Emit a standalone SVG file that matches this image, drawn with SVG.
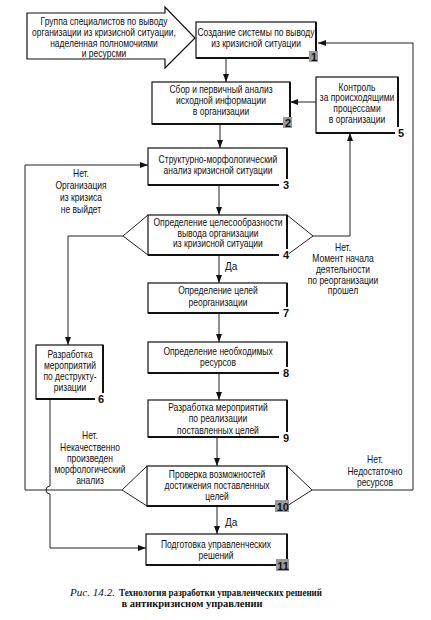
<svg xmlns="http://www.w3.org/2000/svg" width="431" height="620" viewBox="0 0 431 620">
<style>
.b{fill:#fff;stroke:#111;stroke-width:1.2}
.s{fill:none;stroke:#111;stroke-width:2}
.l{fill:none;stroke:#222;stroke-width:1}
.t{font-family:"Liberation Sans",Arial,sans-serif;font-size:10px;text-anchor:middle;fill:#111;transform-box:fill-box;transform-origin:center;transform:scaleX(0.85)}
.n{font-family:"Liberation Sans",Arial,sans-serif;font-size:11px;font-weight:bold;text-anchor:end;fill:#111}
.g{fill:#9a9a9a}
.w{fill:#fff}
.c{font-family:"Liberation Serif","Times New Roman",serif;font-size:10.5px;font-weight:bold;fill:#111}
.ci{font-family:"Liberation Serif","Times New Roman",serif;font-size:10.5px;font-style:italic;font-weight:normal;fill:#111}
</style>
<defs>
<marker id="a" markerWidth="8" markerHeight="6" refX="8" refY="3" orient="auto" markerUnits="userSpaceOnUse"><path d="M0,0 L8,3 L0,6 z" fill="#111"/></marker>
</defs>
<rect width="431" height="620" fill="#fff"/>

<g id="connectors">
<path class="l" d="M226,58 V82" marker-end="url(#a)"/>
<path class="l" d="M316,102 H290" marker-end="url(#a)"/>
<path class="l" d="M220,124 V148" marker-end="url(#a)"/>
<path class="l" d="M219,185 V215" marker-end="url(#a)"/>
<path class="l" d="M123,236 H68 V345" marker-end="url(#a)"/>
<path class="l" d="M313,236 H350 V133" marker-end="url(#a)"/>
<path class="l" d="M219,255 V283" marker-end="url(#a)"/>
<path class="l" d="M219,313 V342" marker-end="url(#a)"/>
<path class="l" d="M219,373 V400" marker-end="url(#a)"/>
<path class="l" d="M217,437 V466" marker-end="url(#a)"/>
<path class="l" d="M217,506 V534" marker-end="url(#a)"/>
<path class="l" d="M312,490 H413 V43 H318" marker-end="url(#a)"/>
<path class="l" d="M122,490 H25 V165 H148" marker-end="url(#a)"/>
<path class="l" d="M50,399 V486 A4,4 0 0 0 50,494 V548 H146" marker-end="url(#a)"/>
<text class="t"><tspan x="81" y="177.5">Нет.</tspan><tspan x="81" y="189.5">Организация</tspan><tspan x="81" y="201.5">из кризиса</tspan><tspan x="81" y="213">не выйдет</tspan></text>
<text class="t"><tspan x="343" y="251.5">Нет.</tspan><tspan x="343" y="262">Момент начала</tspan><tspan x="343" y="273">деятельности</tspan><tspan x="343" y="284">по реорганизации</tspan><tspan x="343" y="294.5">прошел</tspan></text>
<text class="t" style="text-anchor:start;transform:none" x="225" y="269.5">Да</text>
<text class="t"><tspan x="90" y="439.5">Нет.</tspan><tspan x="90" y="451">Некачественно</tspan><tspan x="90" y="462">произведен</tspan><tspan x="90" y="473">морфологический</tspan><tspan x="90" y="484.5">анализ</tspan></text>
<text class="t"><tspan x="375" y="463.5">Нет.</tspan><tspan x="375" y="475.5">Недостаточно</tspan><tspan x="375" y="486.5">ресурсов</tspan></text>
<text class="t" style="text-anchor:start;transform:none" x="225" y="525.5">Да</text>
</g>

<g id="input">
<path class="b" d="M27,13 H165 V7 L195,38 L165,68 V59 H27 Z"/>
<text class="t"><tspan x="104" y="25.5">Группа специалистов по выводу</tspan><tspan x="104" y="36.5">организации из кризисной ситуации,</tspan><tspan x="104" y="47">наделенная полномочиями</tspan><tspan x="104" y="57.5">и ресурсми</tspan></text>
</g>

<g id="n1">
<rect class="b" x="196" y="22" width="120" height="36"/><path class="s" d="M316,22 V58 H196"/>
<text class="t"><tspan x="256" y="36.5">Создание системы по выводу</tspan><tspan x="256" y="47.5">из кризисной ситуации</tspan></text>
<rect class="g" x="309" y="51" width="9" height="11"/><text class="n" x="317" y="61">1</text>
</g>

<g id="n2">
<rect class="b" x="152" y="82" width="138" height="42"/><path class="s" d="M290,82 V124 H152"/>
<text class="t"><tspan x="221" y="93.5">Сбор и первичный анализ</tspan><tspan x="221" y="104.5">исходной информации</tspan><tspan x="221" y="115.5">в организации</tspan></text>
<rect class="g" x="283" y="117" width="9" height="11"/><text class="n" x="291" y="127">2</text>
</g>

<g id="n5">
<rect class="b" x="316" y="77" width="82" height="56"/><path class="s" d="M398,77 V133 H316"/>
<text class="t"><tspan x="357" y="91.5">Контроль</tspan><tspan x="357" y="101.5">за происходящими</tspan><tspan x="357" y="112.5">процессами</tspan><tspan x="357" y="123.5">в организации</tspan></text>
<rect class="w" x="395" y="127" width="9" height="11"/><text class="n" x="404" y="137">5</text>
</g>

<g id="n3">
<rect class="b" x="148" y="148" width="139" height="37"/><path class="s" d="M287,148 V185 H148"/>
<text class="t"><tspan x="218" y="163.5">Структурно-морфологический</tspan><tspan x="218" y="174.5">анализ кризисной ситуации</tspan></text>
<rect class="w" x="279" y="179" width="10" height="11"/><text class="n" x="289" y="189">3</text>
</g>

<g id="n4">
<path class="l" d="M148,215 L123,236 L148,255 M287,215 L313,236 L287,255"/>
<rect class="b" x="148" y="215" width="139" height="40"/><path class="s" d="M287,215 V255 H148"/>
<text class="t"><tspan x="218" y="226.5">Определение целесообразности</tspan><tspan x="218" y="237">вывода организации</tspan><tspan x="218" y="247.5">из кризисной ситуации</tspan></text>
<rect class="w" x="279" y="249" width="10" height="11"/><text class="n" x="289" y="259">4</text>
</g>

<g id="n7">
<rect class="b" x="148" y="283" width="139" height="30"/><path class="s" d="M287,283 V313 H148"/>
<text class="t"><tspan x="218" y="294">Определение целей</tspan><tspan x="218" y="306">реорганизации</tspan></text>
<rect class="w" x="279" y="307" width="10" height="11"/><text class="n" x="289" y="317">7</text>
</g>

<g id="n8">
<rect class="b" x="148" y="342" width="139" height="31"/><path class="s" d="M287,342 V373 H148"/>
<text class="t"><tspan x="218" y="355.5">Определение необходимых</tspan><tspan x="218" y="366.5">ресурсов</tspan></text>
<rect class="w" x="279" y="367" width="10" height="11"/><text class="n" x="289" y="377">8</text>
</g>

<g id="n6">
<rect class="b" x="36" y="345" width="67" height="54"/><path class="s" d="M103,345 V399 H36"/>
<text class="t"><tspan x="70" y="358.5">Разработка</tspan><tspan x="70" y="369.5">мероприятий</tspan><tspan x="70" y="380.5">по деструкту-</tspan><tspan x="70" y="391">ризации</tspan></text>
<rect class="w" x="95" y="393" width="10" height="11"/><text class="n" x="104" y="403">6</text>
</g>

<g id="n9">
<rect class="b" x="148" y="400" width="139" height="37"/><path class="s" d="M287,400 V437 H148"/>
<text class="t"><tspan x="218" y="411">Разработка мероприятий</tspan><tspan x="218" y="422.5">по реализации</tspan><tspan x="218" y="434">поставленных целей</tspan></text>
<rect class="w" x="279" y="432" width="10" height="11"/><text class="n" x="289" y="442">9</text>
</g>

<g id="n10">
<path class="l" d="M147,466 L122,490 L147,506 M287,466 L312,490 L287,506"/>
<rect class="b" x="147" y="466" width="140" height="40"/><path class="s" d="M287,466 V506 H147"/>
<text class="t"><tspan x="217" y="478.5">Проверка возможностей</tspan><tspan x="217" y="489.5">достижения поставленных</tspan><tspan x="217" y="500.5">целей</tspan></text>
<rect class="g" x="275" y="500" width="14" height="12"/><text class="n" x="289" y="510.5">10</text>
</g>

<g id="n11">
<rect class="b" x="146" y="534" width="141" height="31"/><path class="s" d="M287,534 V565 H146"/>
<text class="t"><tspan x="216" y="548">Подготовка управленческих</tspan><tspan x="216" y="559">решений</tspan></text>
<rect class="g" x="276" y="559" width="13" height="12"/><text class="n" x="289" y="569.5">11</text>
</g>

<g id="caption">
<text class="ci" x="70" y="596" textLength="45" lengthAdjust="spacingAndGlyphs">Рис. 14.2.</text>
<text class="c" x="119" y="596" textLength="203" lengthAdjust="spacingAndGlyphs">Технология разработки управленческих решений</text>
<text class="c" x="192" y="607" text-anchor="middle">в антикризисном управлении</text>
</g>
</svg>
